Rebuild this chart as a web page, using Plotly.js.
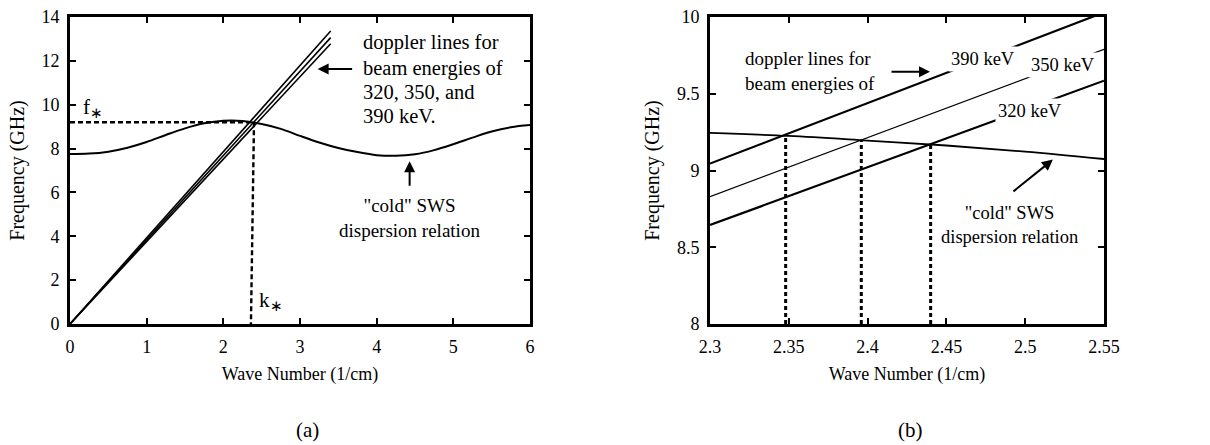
<!DOCTYPE html>
<html>
<head>
<meta charset="utf-8">
<script src="https://cdn.plot.ly/plotly-3.0.1.min.js"></script>
<style>html,body{margin:0;padding:0;background:#fff;}#chart{width:1210px;height:445px;}</style>
</head>
<body>
<div id="chart"></div>
<script>
// ---------- Panel (a) data ----------
const kA = [0, 0.25, 0.5, 0.75, 1.0, 1.25, 1.5, 1.75, 2.0, 2.25, 2.5, 2.75, 3.0, 3.25, 3.5, 3.75, 4.0, 4.25, 4.5, 4.75, 5.0, 5.25, 5.5, 5.75, 6.0];
const fDispA = [7.75, 7.77, 7.86, 8.04, 8.30, 8.62, 8.92, 9.15, 9.27, 9.26, 9.12, 8.90, 8.58, 8.28, 8.03, 7.84, 7.70, 7.67, 7.74, 7.93, 8.20, 8.50, 8.78, 8.97, 9.07];
const kDopA = [0, 3.4];
const f390A = [0, 13.36];
const f350A = [0, 13.06];
const f320A = [0, 12.78];
const kStarH = [0, 2.40];
const fStarH = [9.2, 9.2];
const kStarV = [2.40, 2.36];
const fStarV = [9.2, 0];
const textA = ['doppler lines for', 'beam energies of', '320, 350, and', '390 keV.'];

// ---------- Panel (b) data ----------
const kB = [2.30, 2.35, 2.40, 2.45, 2.50, 2.55];
const fDispB = [9.245, 9.225, 9.195, 9.163, 9.123, 9.075];
const kDopB = [2.30, 2.55];
const f390B = [9.045, 10.03];
const f350B = [8.83, 9.79];
const f320B = [8.645, 9.585];
const kCross = [2.348, 2.396, 2.44];
const fCross = [9.228, 9.197, 9.170];
const fFloorB = 8;

const FONT = 'Liberation Serif, Times New Roman, serif';
const BLACK = '#000';

// vertical dashed lines for panel b, built from the crossing arrays
const vx = [], vy = [];
kCross.forEach((k, i) => { vx.push(k, k, null); vy.push(fFloorB, fCross[i], null); });

const traces = [
  {x: kA, y: fDispA, mode: 'lines', line: {color: BLACK, width: 2, shape: 'spline'}, xaxis: 'x', yaxis: 'y'},
  {x: kDopA, y: f390A, mode: 'lines', line: {color: BLACK, width: 1.6}, xaxis: 'x', yaxis: 'y'},
  {x: kDopA, y: f350A, mode: 'lines', line: {color: BLACK, width: 1.6}, xaxis: 'x', yaxis: 'y'},
  {x: kDopA, y: f320A, mode: 'lines', line: {color: BLACK, width: 1.6}, xaxis: 'x', yaxis: 'y'},
  {x: kStarH, y: fStarH, mode: 'lines', line: {color: BLACK, width: 2.6, dash: '5px,3px'}, xaxis: 'x', yaxis: 'y'},
  {x: kStarV, y: fStarV, mode: 'lines', line: {color: BLACK, width: 2.4, dash: '5px,3px'}, xaxis: 'x', yaxis: 'y'},

  {x: kB, y: fDispB, mode: 'lines', line: {color: BLACK, width: 1.8, shape: 'spline'}, xaxis: 'x2', yaxis: 'y2'},
  {x: kDopB, y: f390B, mode: 'lines', line: {color: BLACK, width: 2.2}, xaxis: 'x2', yaxis: 'y2'},
  {x: kDopB, y: f350B, mode: 'lines', line: {color: BLACK, width: 1.2}, xaxis: 'x2', yaxis: 'y2'},
  {x: kDopB, y: f320B, mode: 'lines', line: {color: BLACK, width: 2.2}, xaxis: 'x2', yaxis: 'y2'},
  {x: vx, y: vy, mode: 'lines', line: {color: BLACK, width: 3, dash: '4px,3px'}, xaxis: 'x2', yaxis: 'y2', connectgaps: false}
];

function axis(extra) {
  return Object.assign({
    showline: true, linecolor: BLACK, linewidth: 3, mirror: 'ticks',
    ticks: 'inside', ticklen: 6, tickwidth: 2, tickcolor: BLACK,
    showgrid: false, zeroline: false,
    tickfont: {family: FONT, size: 18, color: BLACK},
    ticklabelstandoff: 4
  }, extra);
}

const yDom = [1 - 324 / 445, 1 - 17 / 445];
const xTitleFont = {family: FONT, size: 18, color: BLACK};
const yTitleFont = {family: FONT, size: 20, color: BLACK};

const annotations = [];
// panel (a) text block, one line per annotation
const textAY = [12.84, 11.66, 10.56, 9.47];
textA.forEach((t, i) => annotations.push({xref: 'x', yref: 'y', x: 3.80, y: textAY[i], xanchor: 'left', yanchor: 'middle',
  showarrow: false, text: t, font: {family: FONT, size: 20.5, color: BLACK}}));

annotations.push(
  {xref: 'x', yref: 'y', x: 4.43, y: 4.82, xanchor: 'center', yanchor: 'middle', align: 'center', showarrow: false,
    text: '"cold" SWS<br>dispersion relation', font: {family: FONT, size: 19, color: BLACK}},
  {xref: 'x', yref: 'y', x: 0.14, y: 9.85, xanchor: 'left', yanchor: 'middle', showarrow: false,
    text: 'f<sub>∗</sub>', font: {family: FONT, size: 21, color: BLACK}},
  {xref: 'x', yref: 'y', x: 2.44, y: 1.05, xanchor: 'left', yanchor: 'middle', showarrow: false,
    text: 'k<sub>∗</sub>', font: {family: FONT, size: 21, color: BLACK}},
  {xref: 'x', yref: 'y', x: 3.23, y: 11.63, ax: 36, ay: 0, text: '', showarrow: true,
    arrowhead: 2, arrowsize: 1.1, arrowwidth: 2, arrowcolor: BLACK},
  {xref: 'x', yref: 'y', x: 4.43, y: 7.42, ax: 0, ay: 26, text: '', showarrow: true,
    arrowhead: 2, arrowsize: 1.1, arrowwidth: 2, arrowcolor: BLACK},
  // panel (b) texts
  {xref: 'x2', yref: 'y2', x: 2.321, y: 9.646, xanchor: 'left', yanchor: 'middle', align: 'left', showarrow: false,
    text: 'doppler lines for<br>beam energies of', font: {family: FONT, size: 19, color: BLACK}},
  {xref: 'x2', yref: 'y2', x: 2.490, y: 8.645, xanchor: 'center', yanchor: 'middle', align: 'center', showarrow: false,
    text: '"cold" SWS<br>dispersion relation', font: {family: FONT, size: 18.5, color: BLACK}},
  {xref: 'x2', yref: 'y2', x: 2.473, y: 9.725, xanchor: 'center', yanchor: 'middle', showarrow: false,
    text: '390 keV', bgcolor: '#fff', borderpad: 2, font: {family: FONT, size: 18.5, color: BLACK}},
  {xref: 'x2', yref: 'y2', x: 2.524, y: 9.69, xanchor: 'center', yanchor: 'middle', showarrow: false,
    text: '350 keV', bgcolor: '#fff', borderpad: 2, font: {family: FONT, size: 18.5, color: BLACK}},
  {xref: 'x2', yref: 'y2', x: 2.503, y: 9.39, xanchor: 'center', yanchor: 'middle', showarrow: false,
    text: '320 keV', bgcolor: '#fff', borderpad: 2, font: {family: FONT, size: 18.5, color: BLACK}},
  {xref: 'x2', yref: 'y2', x: 2.4396, y: 9.643, ax: -40, ay: 0, text: '', showarrow: true,
    arrowhead: 2, arrowsize: 1.1, arrowwidth: 2, arrowcolor: BLACK},
  {xref: 'x2', yref: 'y2', x: 2.5176, y: 9.071, ax: -41, ay: 33, text: '', showarrow: true,
    arrowhead: 2, arrowsize: 1.1, arrowwidth: 2, arrowcolor: BLACK},
  // panel labels
  {xref: 'paper', yref: 'paper', x: 308 / 1210, y: 1 - 430 / 445, xanchor: 'center', yanchor: 'middle', showarrow: false,
    text: '(a)', font: {family: FONT, size: 21, color: BLACK}},
  {xref: 'paper', yref: 'paper', x: 910 / 1210, y: 1 - 430 / 445, xanchor: 'center', yanchor: 'middle', showarrow: false,
    text: '(b)', font: {family: FONT, size: 21, color: BLACK}}
);

const layout = {
  width: 1210, height: 445,
  margin: {l: 0, r: 0, t: 0, b: 0},
  paper_bgcolor: '#fff', plot_bgcolor: '#fff',
  showlegend: false,
  font: {family: FONT, color: BLACK},
  xaxis: axis({domain: [70 / 1210, 530 / 1210], range: [0, 6], dtick: 1, tick0: 0,
    title: {text: 'Wave Number (1/cm)', font: xTitleFont, standoff: 12}, anchor: 'y'}),
  yaxis: axis({domain: yDom, range: [0, 14], dtick: 2, tick0: 0,
    title: {text: 'Frequency (GHz)', font: yTitleFont, standoff: 12}, anchor: 'x'}),
  xaxis2: axis({domain: [710 / 1210, 1104 / 1210], range: [2.3, 2.55], dtick: 0.05, tick0: 2.3,
    title: {text: 'Wave Number (1/cm)', font: xTitleFont, standoff: 12}, anchor: 'y2'}),
  yaxis2: axis({domain: yDom, range: [8, 10], dtick: 0.5, tick0: 8,
    title: {text: 'Frequency (GHz)', font: yTitleFont, standoff: 12}, anchor: 'x2'}),
  annotations: annotations
};

Plotly.newPlot('chart', traces, layout, {displayModeBar: false, staticPlot: true});
</script>
</body>
</html>
